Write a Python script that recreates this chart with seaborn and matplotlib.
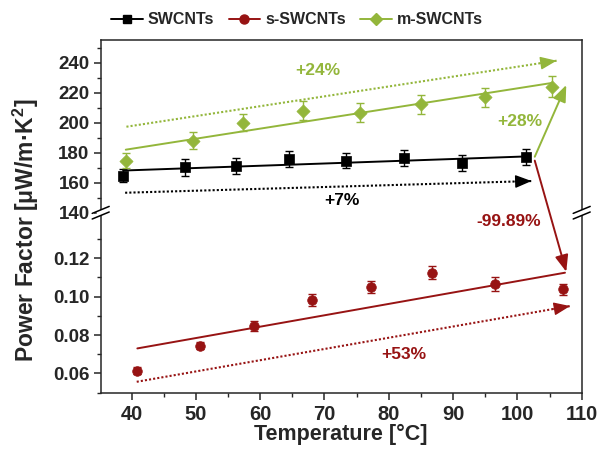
import numpy as np
import pandas as pd
import matplotlib
matplotlib.use("Agg")
import matplotlib.pyplot as plt
import seaborn as sns
from matplotlib.lines import Line2D
from matplotlib.patches import ConnectionPatch, Polygon
from matplotlib.ticker import MultipleLocator, FixedLocator

# ---------------- data ----------------
sw_T = [38.7, 48.3, 56.3, 64.5, 73.3, 82.3, 91.4, 101.4]
sw_PF = [164.7, 170.2, 171.1, 175.8, 174.7, 176.5, 173.3, 176.9]
sw_err = [4.5, 5.5, 5.3, 5.2, 5.2, 5.3, 5.2, 5.3]

m_T = [39.1, 49.5, 57.3, 66.6, 75.6, 85.0, 95.0, 105.4]
m_PF = [174.5, 188.0, 200.0, 208.0, 206.7, 212.2, 217.0, 224.0]
m_err = [5.0, 5.7, 5.8, 6.4, 6.4, 6.3, 6.3, 6.9]

s_T = [40.9, 50.6, 59.0, 68.0, 77.3, 86.7, 96.5, 107.1]
s_PF = [0.0614, 0.0744, 0.0848, 0.0982, 0.1049, 0.1125, 0.1066, 0.1038]
s_err = [0.0017, 0.0018, 0.0026, 0.0030, 0.0032, 0.0033, 0.0034, 0.0030]

# linear fit lines (end points)
sw_fit_T = [38.7, 101.4]
sw_fit_PF = [168.1, 177.5]
m_fit_T = [39.1, 105.4]
m_fit_PF = [182.0, 226.5]
s_fit_T = [40.9, 107.4]
s_fit_PF = [0.0730, 0.1125]

# dotted trend arrows (start, end)
sw_trend_T = [39.0, 102.2]
sw_trend_PF = [153.3, 161.1]
m_trend_T = [39.2, 106.1]
m_trend_PF = [197.3, 241.3]
s_trend_T = [40.8, 108.2]
s_trend_PF = [0.0556, 0.0951]

# jump arrows from SWCNTs end point
jump_m_T = [102.7, 107.6]
jump_m_PF = [177.3, 225.1]
jump_s_T = [102.7, 107.6]
jump_s_PF = [174.7, 0.1130]

labels = ["SWCNTs", "s-SWCNTs", "m-SWCNTs"]
pct_texts = ["+7%", "+53%", "+24%", "+28%", "-99.89%"]
pct_pos_T = [72.7, 82.3, 69.0, 100.4, 98.7]
pct_pos_PF = [147.8, 0.0699, 234.7, 200.7, 0.1394]

x_ticks = [40, 50, 60, 70, 80, 90, 100, 110]
top_ticks = [140, 160, 180, 200, 220, 240]
bot_ticks = [0.06, 0.08, 0.10, 0.12]

BLACK = "#000000"
RED = "#971313"
GREEN = "#93B63B"

# ---------------- style ----------------
sns.set_style("ticks")
plt.rcParams["font.family"] = ["Liberation Sans", "DejaVu Sans"]
plt.rcParams["font.weight"] = "bold"
plt.rcParams["axes.linewidth"] = 1.1
plt.rcParams["mathtext.fontset"] = "custom"
plt.rcParams["mathtext.bf"] = "Liberation Sans:bold"
plt.rcParams["mathtext.rm"] = "Liberation Sans:bold"

W, H = 608, 450
fig = plt.figure(figsize=(W / 100, H / 100), dpi=100)

L = 100.7 / W
R = 581.7 / W
Ytop = 1 - 40 / H
Ybrk = 1 - 212.7 / H
Ybot = 1 - 392.7 / H

ax_top = fig.add_axes([L, Ybrk, R - L, Ytop - Ybrk])
ax_bot = fig.add_axes([L, Ybot, R - L, Ybrk - Ybot], sharex=ax_top)

# ---------------- marks ----------------
def series(ax, T, PF, err, color, marker, size):
    ax.errorbar(T, PF, yerr=err, fmt="none", ecolor=color, elinewidth=1.0,
                capsize=3.2, capthick=1.0, zorder=3)
    sns.scatterplot(x=T, y=PF, ax=ax, color=color, marker=marker, s=size,
                    edgecolor=color, linewidth=0.5, zorder=4, legend=False)

def fitline(ax, T, PF, color):
    sns.lineplot(x=T, y=PF, ax=ax, color=color, linewidth=1.4, zorder=2,
                 legend=False)

def trend(ax, T, PF, color):
    sns.lineplot(x=T, y=PF, ax=ax, color=color, linewidth=1.5,
                 linestyle=(0, (1, 1)), zorder=2, legend=False)
    dT = T[1] - T[0]
    dP = PF[1] - PF[0]
    f = 0.04
    ax.annotate("", xy=(T[1], PF[1]), xytext=(T[1] - f * dT, PF[1] - f * dP),
                arrowprops=dict(arrowstyle="-|>,head_length=1.0,head_width=0.4",
                                color=color, lw=1.0, shrinkA=0, shrinkB=0),
                zorder=3)

fitline(ax_top, sw_fit_T, sw_fit_PF, BLACK)
fitline(ax_top, m_fit_T, m_fit_PF, GREEN)
fitline(ax_bot, s_fit_T, s_fit_PF, RED)

series(ax_top, sw_T, sw_PF, sw_err, BLACK, "s", 42)
series(ax_top, m_T, m_PF, m_err, GREEN, "D", 45)
series(ax_bot, s_T, s_PF, s_err, RED, "o", 48)

trend(ax_top, sw_trend_T, sw_trend_PF, BLACK)
trend(ax_top, m_trend_T, m_trend_PF, GREEN)
trend(ax_bot, s_trend_T, s_trend_PF, RED)

# jump arrows
ax_top.annotate("", xy=(jump_m_T[1], jump_m_PF[1]), xytext=(jump_m_T[0], jump_m_PF[0]),
                arrowprops=dict(arrowstyle="-|>,head_length=1.0,head_width=0.4",
                                color=GREEN, lw=1.4, shrinkA=0, shrinkB=0))
con = ConnectionPatch(xyA=(jump_s_T[0], jump_s_PF[0]), coordsA=ax_top.transData,
                      xyB=(jump_s_T[1], jump_s_PF[1]), coordsB=ax_bot.transData,
                      arrowstyle="-|>,head_length=1.0,head_width=0.4",
                      color=RED, lw=1.4, shrinkA=0, shrinkB=0, mutation_scale=10)
con.set_zorder(6)
fig.add_artist(con)

# percent texts
pct_colors = [BLACK, RED, GREEN, GREEN, RED]
pct_axes = [ax_top, ax_bot, ax_top, ax_top, ax_bot]
for t, xx, yy, c, a in zip(pct_texts, pct_pos_T, pct_pos_PF, pct_colors, pct_axes):
    a.text(xx, yy, t, color=c, fontsize=12.5, fontweight="bold",
           ha="center", va="center", zorder=7)

# ---------------- axes ----------------
ax_top.set_xlim(35.2, 110)
ax_top.set_ylim(140, 255.1)
ax_bot.set_ylim(0.0499, 0.1438)

ax_top.spines["bottom"].set_visible(False)
ax_bot.spines["top"].set_visible(False)
for a in (ax_top, ax_bot):
    a.spines["right"].set_visible(True)
ax_top.spines["top"].set_visible(True)

ax_top.yaxis.set_major_locator(FixedLocator(top_ticks))
ax_top.yaxis.set_minor_locator(MultipleLocator(10))
ax_bot.yaxis.set_major_locator(FixedLocator(bot_ticks))
ax_bot.yaxis.set_minor_locator(FixedLocator([0.05, 0.07, 0.09, 0.11, 0.13]))
ax_bot.xaxis.set_major_locator(FixedLocator(x_ticks))
ax_bot.xaxis.set_minor_locator(MultipleLocator(5))

ax_top.tick_params(axis="x", which="both", bottom=False, top=False, labelbottom=False)
ax_top.yaxis.set_major_formatter(plt.FuncFormatter(lambda v, p: f"{v:.0f}"))
ax_bot.yaxis.set_major_formatter(plt.FuncFormatter(lambda v, p: f"{v:.2f}"))

for a in (ax_top, ax_bot):
    a.tick_params(axis="y", which="major", direction="out", length=5, width=1.1,
                  labelsize=13.5, pad=3, right=False)
    a.tick_params(axis="y", which="minor", direction="out", length=3, width=1.0, right=False)
    for lab in a.get_yticklabels():
        lab.set_fontweight("bold")
ax_bot.tick_params(axis="x", which="major", direction="out", length=5, width=1.1,
                   labelsize=14.5, pad=4, top=False)
ax_bot.tick_params(axis="x", which="minor", direction="out", length=3, width=1.0, top=False)
for lab in ax_bot.get_xticklabels():
    lab.set_fontweight("bold")

ax_bot.set_xlabel("Temperature [°C]", fontsize=15.5, fontweight="bold", labelpad=0)
ax_top.set_ylabel("")
ax_bot.set_ylabel("")
fig.text(26 / W, 1 - 230 / H, r"Power Factor [μW/m·K$^{\mathbf{2}}$]", rotation=90,
         fontsize=16.5, fontweight="bold", ha="center", va="center")

# ---------------- break marks ----------------
def px(x, y):
    return x / W, 1 - y / H

def draw_break(xc, yc):
    gap = 2.8
    dx, dy = 8.5, 3.5
    poly = [px(xc - 4, yc - gap + 1.6), px(xc + 4, yc - gap - 1.6),
            px(xc + 4, yc + gap - 1.6), px(xc - 4, yc + gap + 1.6)]
    fig.add_artist(Polygon(poly, closed=True, facecolor="white", edgecolor="none",
                           transform=fig.transFigure, zorder=8))
    for off in (-gap, gap):
        x0, y0 = px(xc - dx, yc + off + dy)
        x1, y1 = px(xc + dx, yc + off - dy)
        fig.add_artist(Line2D([x0, x1], [y0, y1], color="black", lw=1.1,
                              transform=fig.transFigure, zorder=9))

draw_break(100.7, 212.7)
draw_break(581.7, 212.7)

# ---------------- legend ----------------
handles = [
    Line2D([], [], color=BLACK, marker="s", markersize=6, lw=1.4),
    Line2D([], [], color=RED, marker="o", markersize=6.5, lw=1.4),
    Line2D([], [], color=GREEN, marker="D", markersize=6, lw=1.4),
]
fig.legend(handles, labels, loc="center", bbox_to_anchor=(297 / W, 1 - 20 / H),
           ncol=3, frameon=False, prop={"weight": "bold", "size": 11.5},
           handlelength=2.0, handletextpad=0.3, columnspacing=0.9)

fig.savefig("out.png", dpi=100)
